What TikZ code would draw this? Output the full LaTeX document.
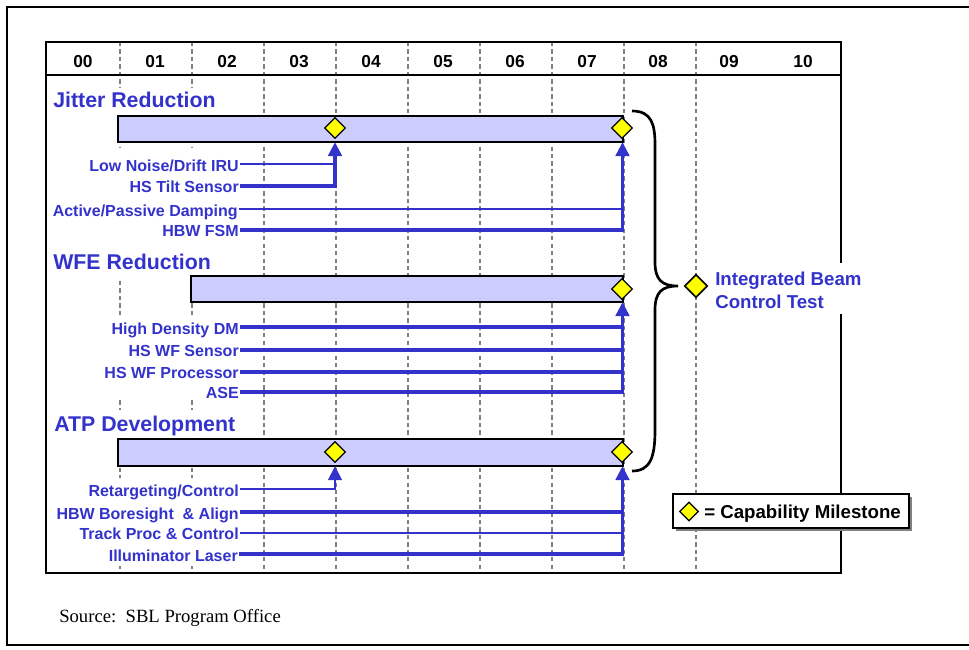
\documentclass[tikz,border=0pt]{standalone}
\usepackage{fontspec}
\setmainfont{Liberation Sans}
\newfontfamily\srcfont{Liberation Serif}
\usetikzlibrary{shapes.geometric,arrows.meta}
\definecolor{bblue}{RGB}{51,51,204}
\definecolor{barfill}{RGB}{204,204,255}
\definecolor{msyellow}{RGB}{255,255,0}
\definecolor{gridgray}{RGB}{128,128,128}
\begin{document}
\begin{tikzpicture}[x=0.75pt,y=-0.75pt,
  hdr/.style={font=\bfseries\fontsize{13}{15}\selectfont, inner sep=0pt},
  ttl/.style={font=\bfseries\fontsize{16}{19}\selectfont, text=bblue, anchor=west, inner sep=0pt, text height=11.5pt, text depth=0pt},
  lbl/.style={font=\bfseries\fontsize{12}{14}\selectfont, text=bblue, anchor=east, inner xsep=0.75pt, inner ysep=0pt, text height=10.8pt, text depth=0pt},
  barbox/.style={draw=black, line width=1.5pt, fill=barfill},
  ms/.style={diamond, draw=black, line width=1pt, fill=msyellow, aspect=1, minimum size=15.75pt, inner sep=0pt},
  gridl/.style={gridgray, line width=1pt, dash pattern=on 3.2pt off 2.4pt},
  thinl/.style={bblue, line width=1.7pt},
  thickl/.style={bblue, line width=2.8pt},
  arr/.style={-{Triangle[length=10.5pt,width=10pt]}},
]
\useasboundingbox (0,0) rectangle (969,649);
% outer frame
\draw[line width=1.3pt] (980,7) -- (7,7) -- (7,645) -- (980,645);
% grid lines
\foreach \gx in {120,192,264,336,408,480,552,624,696}
  \draw[gridl] (\gx,42) -- (\gx,573);
% chart border
\draw[line width=1.3pt] (46,42) rectangle (841,573);
\draw[line width=1.3pt] (46,75) -- (841,75);
% header labels
\node[hdr] (h00) at (83,62) {00};
\node[hdr] (h01) at (155,62) {01};
\node[hdr] (h02) at (227,62) {02};
\node[hdr] (h03) at (299,62) {03};
\node[hdr] (h04) at (371,62) {04};
\node[hdr] (h05) at (443,62) {05};
\node[hdr] (h06) at (515,62) {06};
\node[hdr] (h07) at (587,62) {07};
\node[hdr] (h08) at (658,62) {08};
\node[hdr] (h09) at (729,62) {09};
\node[hdr] (h10) at (803,62) {10};
% white backgrounds behind text blocks
\fill[white] (50,88) rectangle (222,114);
\fill[white] (50,148) rectangle (242,278);
\fill[white] (50,316) rectangle (242,398);
\fill[white] (50,410) rectangle (240,437);
\fill[white] (50,478) rectangle (242,566);
% bars
\draw[barbox] (118,116) rectangle (623,142);
\draw[barbox] (191,276) rectangle (623,302);
\draw[barbox] (118,439) rectangle (623,466);
% titles
\node[ttl] (tj) at (53,100) {Jitter Reduction};
\node[ttl] (tw) at (53,261.5) {WFE Reduction};
\node[ttl] (ta) at (54,424) {ATP Development};
% labels
\node[lbl] (lnd) at (240,164.3) {Low Noise/Drift IRU};
\node[lbl] (hts) at (240,185.7) {HS Tilt Sensor};
\node[lbl] (apd) at (239,209) {Active/Passive Damping};
\node[lbl] (hbw) at (240,229.7) {HBW FSM};
\node[lbl] (hdd) at (240,327.3) {High Density DM};
\node[lbl] (hws) at (240,349.7) {HS WF Sensor};
\node[lbl] (hwp) at (240,371.7) {HS WF Processor};
\node[lbl] (ase) at (240,391.7) {ASE};
\node[lbl] (ret) at (240,489) {Retargeting/Control};
\node[lbl] (hbb) at (240,512) {HBW Boresight\ \ \& Align};
\node[lbl] (tpc) at (240,532.7) {Track Proc \& Control};
\node[lbl] (ill) at (239,554) {Illuminator Laser};
% arrow targets
\coordinate (jA) at (335,142);
\coordinate (jB) at (622.5,142);
\coordinate (wB) at (622.5,302);
\coordinate (aA) at (335,466);
\coordinate (aB) at (622.5,466);
% connectors
\draw[thinl] (lnd.east) -- (lnd.east -| jA);
\draw[thickl,arr] (hts.east) -| (jA);
\draw[thinl] (apd.east) -- (apd.east -| jB);
\draw[thickl,arr] (hbw.east) -| (jB);
\draw[thickl] (hdd.east) -- (hdd.east -| wB);
\draw[thickl] (hws.east) -- (hws.east -| wB);
\draw[thickl] (hwp.east) -- (hwp.east -| wB);
\draw[thickl,arr] (ase.east) -| (wB);
\draw[bblue,line width=2.1pt,arr] (ret.east) -| (aA);
\draw[thickl] (hbb.east) -- (hbb.east -| aB);
\draw[thinl] (tpc.east) -- (tpc.east -| aB);
\draw[thickl,arr] (ill.east) -| (aB);
% milestones
\node[ms] (mj1) at (335,128) {};
\node[ms] (mj2) at (622,128) {};
\node[ms] (mw2) at (622,289) {};
\node[ms] (ma1) at (335,452) {};
\node[ms] (ma2) at (622,452) {};
% brace
\draw[line width=2pt] (632,111) .. controls (652,111) and (655,125) .. (655,145) -- (655,262)
  .. controls (655,280) and (662,286) .. (678,286)
  .. controls (662,286) and (655,292) .. (655,310) -- (655,430)
  .. controls (655,458) and (650,471) .. (632,471);
% integrated beam control test
\node[ms, minimum size=17.25pt, line width=1.2pt] (ibd) at (696,286) {};
\fill[white] (711,263) rectangle (866,314);
\node[anchor=north west, inner sep=0pt, align=left, text=bblue,
  font=\bfseries\fontsize{14}{17.25}\selectfont] (ibt) at (715,271.7) {Integrated Beam\\Control Test};
% legend
\fill[gridgray] (676,497) rectangle (912,531);
\draw[fill=white, line width=1.5pt] (673,494) rectangle (909,528);
\node[ms, minimum size=14.25pt] (lgd) at (689,511.5) {};
\node[anchor=west, inner sep=0pt, text height=10pt, text depth=0pt,
  font=\bfseries\fontsize{14}{17}\selectfont] (lgt) at (704,512) {= Capability Milestone};
% source
\node[anchor=west, inner sep=0pt, text height=9.3pt, text depth=0pt,
  font=\srcfont\fontsize{14}{17}\selectfont] (src) at (59,616) {Source:\ \ SBL Program Office};
\end{tikzpicture}
\end{document}
